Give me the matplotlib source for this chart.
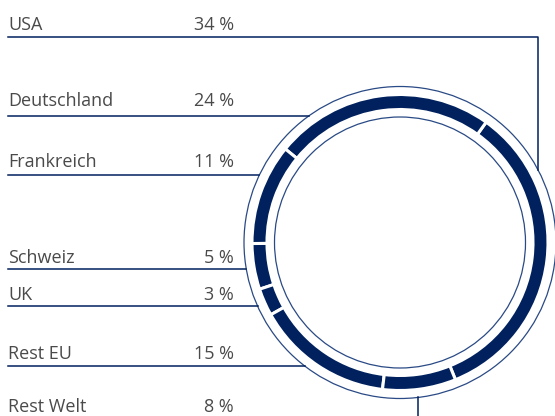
import matplotlib

matplotlib.use("Agg")
import matplotlib.pyplot as plt
import numpy as np
from matplotlib.patches import Circle

# data: share by region, counterclockwise around the ring
labels = ["USA", "Deutschland", "Frankreich", "Schweiz", "UK", "Rest EU", "Rest Welt"]
shares = [34, 24, 11, 5, 3, 15, 8]
value_text = [f"{v} %" for v in shares]

NAVY = "#00215e"
GREY = "#4a4a4a"
W, H = 555, 416

# layout (image pixel coords, y measured from top)
cx, cy = 400, 242.5
baseline_y = [30, 106, 167, 263, 300, 359, 412]
underline_y = [37, 116, 175, 269, 306, 366, None]

plt.rcParams["font.family"] = ["Open Sans", "DejaVu Sans"]
fig = plt.figure(figsize=(W / 100, H / 100), dpi=100)
ax = fig.add_axes([0, 0, 1, 1])


def fy(y):
    return H - y


ax.pie(shares, radius=148, center=(cx, fy(cy)), startangle=-68, counterclock=True,
       colors=[NAVY] * len(shares),
       wedgeprops=dict(width=15, edgecolor="white", linewidth=2.2))
for r in (156, 125.5):
    ax.add_patch(Circle((cx, fy(cy)), r, fill=False, edgecolor="#2a4a85", lw=0.9))

r_out = 156
for name, val, by, uy in zip(labels, value_text, baseline_y, underline_y):
    ax.text(8, fy(by), name, ha="left", va="baseline", fontsize=13, color=GREY)
    ax.text(234, fy(by), val, ha="right", va="baseline", fontsize=13, color=GREY)
    if uy is None:
        continue
    if name == "USA":
        x_end = 538
        y_end = cy - np.sqrt(r_out ** 2 - (x_end - cx) ** 2)
        ax.plot([8, x_end, x_end], [fy(uy), fy(uy), fy(y_end)], color=NAVY, lw=1.1)
    else:
        x_end = cx - np.sqrt(r_out ** 2 - (uy - cy) ** 2)
        ax.plot([8, x_end], [fy(uy), fy(uy)], color=NAVY, lw=1.1)

# Rest Welt leader runs down from the bottom of the ring
x_rw = 418
y_rw = cy + np.sqrt(r_out ** 2 - (x_rw - cx) ** 2)
ax.plot([x_rw, x_rw], [fy(y_rw), fy(H + 5)], color=NAVY, lw=1.1)

ax.set_xlim(0, W)
ax.set_ylim(0, H)
ax.set_aspect("equal")
ax.axis("off")
fig.savefig("out.png", dpi=100)
